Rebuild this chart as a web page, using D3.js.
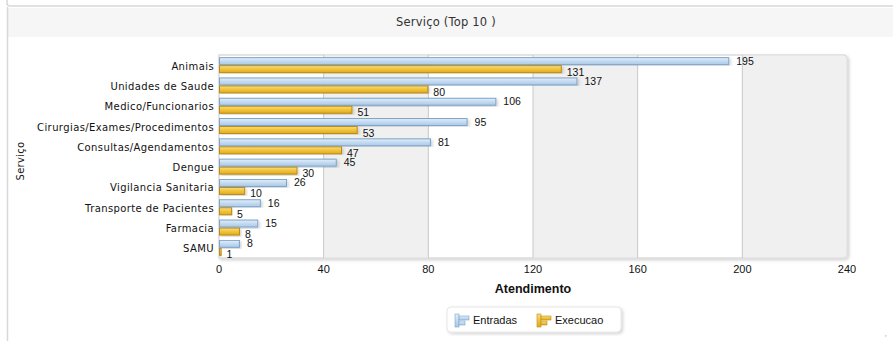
<!DOCTYPE html>
<html><head><meta charset="utf-8">
<script src="https://cdn.jsdelivr.net/npm/d3@7"></script>
<style>body{margin:0;background:#fff}svg{display:block}</style>
</head><body><svg id="c" width="893" height="341"></svg>
<script>
const categories=["Animais","Unidades de Saude","Medico/Funcionarios","Cirurgias/Exames/Procedimentos","Consultas/Agendamentos","Dengue","Vigilancia Sanitaria","Transporte de Pacientes","Farmacia","SAMU"];
const entradas=[195,137,106,95,81,45,26,16,15,8];
const execucao=[131,80,51,53,47,30,10,5,8,1];
const xTicks=[0,40,80,120,160,200,240];
const seriesNames=["Entradas","Execucao"];
const title="Serviço (Top 10 )";
const xTitle="Atendimento";
const yTitle="Serviço";

const svg=d3.select("#c");
const defs=svg.append("defs");
function grad(id,c1,c2,c3){const g=defs.append("linearGradient").attr("id",id).attr("x1",0).attr("y1",0).attr("x2",0).attr("y2",1);
g.append("stop").attr("offset","0%").attr("stop-color",c1);g.append("stop").attr("offset","45%").attr("stop-color",c2);g.append("stop").attr("offset","100%").attr("stop-color",c3);}
grad("gb","#e4effa","#c6dcf2","#a9c9e8");
grad("go","#f9de8a","#f2c53e","#e2ab1c");
const f=defs.append("filter").attr("id","sh").attr("x","-5%").attr("y","-5%").attr("width","115%").attr("height","120%");
f.append("feDropShadow").attr("dx",1.5).attr("dy",1.5).attr("stdDeviation",1.5).attr("flood-color","#000").attr("flood-opacity",0.18);

// panel frame
svg.append("path").attr("d","M7,0 L7,3 Q7,6 10,6 L893,6").attr("fill","none").attr("stroke","#d8d8d8").attr("stroke-width",1.5);
svg.append("rect").attr("x",7.5).attr("y",8).attr("width",890).attr("height",29).attr("fill","#f6f6f6");
svg.append("line").attr("x1",7.5).attr("x2",7.5).attr("y1",7).attr("y2",341).attr("stroke","#d8d8d8").attr("stroke-width",1.5);
svg.append("text").attr("x",446).attr("y",26).attr("text-anchor","middle").attr("font-family","DejaVu Sans").attr("font-size",11.5).attr("letter-spacing",0.2).attr("fill","#333").text(title);

const L=219,R=847,T=55,B=258;
const x=d3.scaleLinear().domain([0,240]).range([L,R]);
const y=d3.scaleBand().domain(categories).range([T,B]).paddingInner(0.1).paddingOuter(0.05);

// plot background with rounded right corners
const plot=svg.append("g");
plot.append("path").attr("d",`M${L},${T} L${R-4},${T} Q${R},${T} ${R},${T+4} L${R},${B-4} Q${R},${B} ${R-4},${B} L${L},${B} Z`)
 .attr("fill","#fff").attr("stroke","#dcdcdc").attr("stroke-width",1.5).attr("filter","url(#sh)");
for(let i=0;i<xTicks.length-1;i++){
  if(i%2===1){
    const x0=x(xTicks[i]),x1=x(xTicks[i+1]);
    if(i===xTicks.length-2){
      plot.append("path").attr("d",`M${x0},${T+0.75} L${x1-4},${T+0.75} Q${x1-0.75},${T+0.75} ${x1-0.75},${T+4} L${x1-0.75},${B-4} Q${x1-0.75},${B-0.75} ${x1-4},${B-0.75} L${x0},${B-0.75} Z`).attr("fill","#f0f0f0");
    } else plot.append("rect").attr("x",x0).attr("y",T+0.75).attr("width",x1-x0).attr("height",B-T-1.5).attr("fill","#f0f0f0");
  }
}
xTicks.slice(1,-1).forEach(t=>plot.append("line").attr("x1",x(t)).attr("x2",x(t)).attr("y1",T).attr("y2",B).attr("stroke","#c8c8c8").attr("stroke-width",1));

// bars
const bh=8;
categories.forEach((c,i)=>{
  const y0=y(c);
  const yb=y0+ (y.bandwidth()-2*bh)/2;
  const g=svg.append("g");
  g.append("rect").attr("x",L+0.5).attr("y",yb+0.5).attr("width",Math.max(x(entradas[i])-L-1,0.5)).attr("height",bh-1)
   .attr("fill","url(#gb)").attr("stroke","#7ea3c6").attr("stroke-width",1).attr("filter","url(#sh)");
  g.append("rect").attr("x",L+0.5).attr("y",yb+bh+0.5).attr("width",Math.max(x(execucao[i])-L-1,0.5)).attr("height",bh-1)
   .attr("fill","url(#go)").attr("stroke","#b88c14").attr("stroke-width",1).attr("filter","url(#sh)");
  g.append("text").attr("x",x(entradas[i])+7).attr("y",yb+bh-0.5).attr("font-family","Liberation Sans").attr("font-size",10.5).attr("fill","#111").text(entradas[i]);
  g.append("text").attr("x",x(execucao[i])+5).attr("y",yb+2*bh+2.5).attr("font-family","Liberation Sans").attr("font-size",10.5).attr("fill","#111").text(execucao[i]);
  svg.append("text").attr("x",214).attr("y",y0+y.bandwidth()/2+4.5).attr("text-anchor","end").attr("font-family","DejaVu Sans").attr("font-size",10).attr("letter-spacing",0.4).attr("fill","#111").text(c);
});

// x axis labels
svg.append("g").selectAll("text").data(xTicks).join("text").attr("x",d=>x(d)).attr("y",273).attr("text-anchor","middle")
 .attr("font-family","Liberation Sans").attr("font-size",11).attr("fill","#111").text(d=>d);
svg.append("text").attr("x",533).attr("y",293).attr("text-anchor","middle").attr("font-family","Liberation Sans").attr("font-weight","bold").attr("font-size",12.5).attr("fill","#111").text(xTitle);
svg.append("text").attr("transform","translate(24,161) rotate(-90)").attr("text-anchor","middle").attr("font-family","DejaVu Sans").attr("font-size",10).attr("letter-spacing",0.3).attr("fill","#111").text(yTitle);

// legend
const lg=svg.append("g");
lg.append("rect").attr("x",447).attr("y",307).attr("width",174).attr("height",25).attr("rx",4).attr("fill","#fff").attr("stroke","#e6e6e6").attr("filter","url(#sh)");
const items=[{n:seriesNames[0],x:455,g:"url(#gb)",s:"#7ea3c6"},{n:seriesNames[1],x:537,g:"url(#go)",s:"#b88c14"}];
items.forEach(it=>{
  lg.append("rect").attr("x",it.x).attr("y",314).attr("width",4).attr("height",13).attr("fill",it.g).attr("stroke",it.s).attr("stroke-width",0.6);
  lg.append("rect").attr("x",it.x+4).attr("y",316).attr("width",10).attr("height",4).attr("fill",it.g).attr("stroke",it.s).attr("stroke-width",0.6);
  lg.append("rect").attr("x",it.x+4).attr("y",321).attr("width",6).attr("height",4).attr("fill",it.g).attr("stroke",it.s).attr("stroke-width",0.6);
  lg.append("text").attr("x",it.x+18).attr("y",324).attr("font-family","Liberation Sans").attr("font-size",11).attr("fill","#111").text(it.n);
});
svg.append("text").attr("x",885).attr("y",340).attr("font-family","Liberation Sans").attr("font-size",7).attr("fill","#999").text("\u2032");
</script></body></html>
